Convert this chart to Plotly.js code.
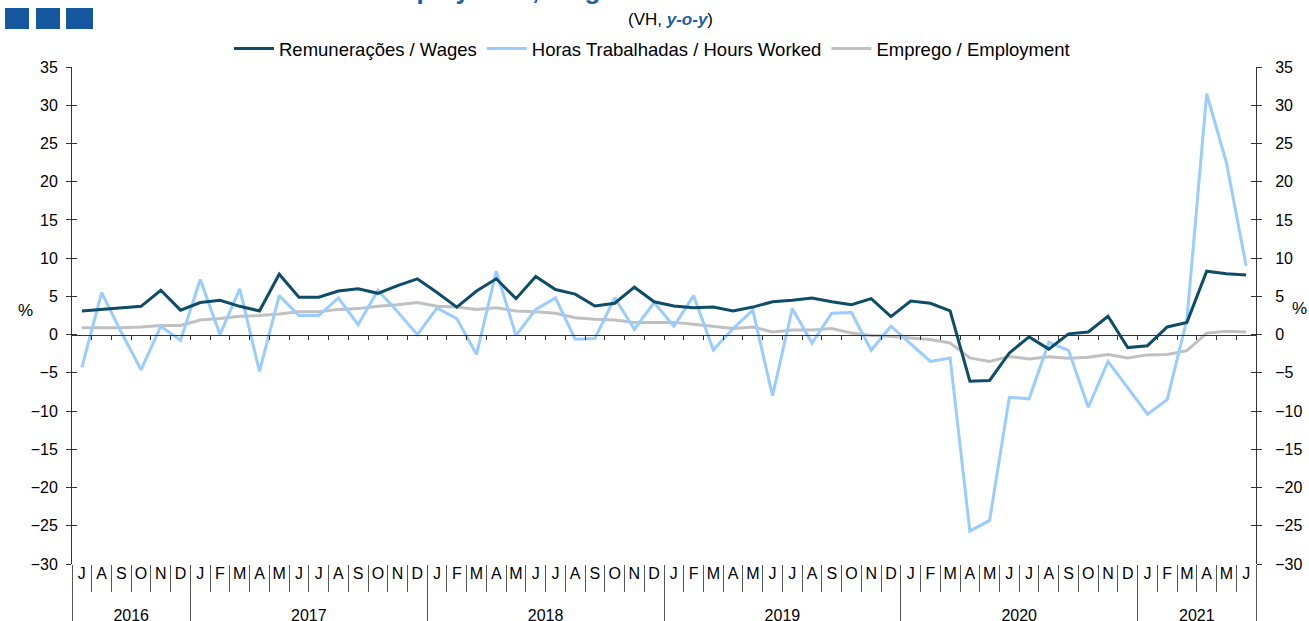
<!DOCTYPE html>
<html><head><meta charset="utf-8">
<script src="https://cdn.plot.ly/plotly-3.0.1.min.js"></script>
<style>html,body{margin:0;padding:0;background:#fff;} #chart{width:1309px;height:621px;}</style>
</head><body><div id="chart"></div>
<script>
// ---- data ----
const monthLetters = ['J','F','M','A','M','J','J','A','S','O','N','D'];
const startYear = 2016;
const startMonth = 6; // July
const wages = [
  3.1, 3.3, 3.5, 3.7, 5.8, 3.2,
  4.2, 4.5, 3.7, 3.1, 7.9, 4.9, 4.9, 5.7, 6.0, 5.4, 6.4, 7.3,
  5.5, 3.6, 5.7, 7.3, 4.7, 7.6, 5.9, 5.3, 3.75, 4.1, 6.2, 4.3,
  3.75, 3.5, 3.6, 3.1, 3.6, 4.3, 4.5, 4.8, 4.3, 3.9, 4.7, 2.35,
  4.4, 4.1, 3.1, -6.1, -6.0, -2.4, -0.3, -1.9, 0.1, 0.35, 2.4, -1.7,
  -1.45, 1.0, 1.6, 8.3, 7.95, 7.8
];
const hours = [
  -4.3, 5.5, 0.3, -4.6, 1.1, -0.75,
  7.2, 0.0, 6.0, -4.8, 5.1, 2.5, 2.5, 4.8, 1.3, 5.8, 3.0, 0.0,
  3.5, 2.1, -2.6, 8.3, -0.1, 3.3, 4.8, -0.6, -0.5, 4.8, 0.7, 4.2,
  1.1, 5.1, -2.0, 0.8, 3.2, -8.0, 3.4, -1.1, 2.8, 2.9, -2.05, 1.1,
  -1.2, -3.5, -3.05, -25.7, -24.3, -8.2, -8.4, -1.0, -2.05, -9.5, -3.5, -6.9,
  -10.4, -8.5, 2.0, 31.5, 22.5, 9.0
];
const employment = [
  0.9, 0.9, 0.9, 1.0, 1.2, 1.2,
  1.9, 2.1, 2.4, 2.5, 2.7, 3.0, 3.0, 3.3, 3.4, 3.7, 3.9, 4.2,
  3.7, 3.6, 3.3, 3.5, 3.1, 3.0, 2.8, 2.2, 2.0, 1.9, 1.6, 1.6,
  1.6, 1.35, 1.1, 0.8, 1.0, 0.35, 0.6, 0.6, 0.8, 0.2, -0.1, -0.2,
  -0.45, -0.65, -1.1, -3.05, -3.5, -2.85, -3.2, -2.9, -3.1, -2.95, -2.6, -3.05,
  -2.65, -2.6, -2.1, 0.2, 0.45, 0.35
];
const seriesNames = ['Remunerações / Wages', 'Horas Trabalhadas / Hours Worked', 'Emprego / Employment'];
const yTicks = [-30,-25,-20,-15,-10,-5,0,5,10,15,20,25,30,35];
const yRange = [-30, 35];

// ---- build categories ----
const n = wages.length;
const years = [], months = [];
for (let i = 0; i < n; i++) {
  const m = (startMonth + i) % 12;
  const y = startYear + Math.floor((startMonth + i) / 12);
  years.push('<br>' + y);                               // empty first line lowers the year row
  months.push(monthLetters[m] + '\u200B'.repeat(i + 1)); // invisible suffix keeps each month distinct and in order
}
const xCat = [years, months];
const boundaries = [];
for (let i = 0; i < n - 1; i++) boundaries.push(i + 0.5);

// ---- geometry helpers ----
const W = 1309, H = 621, ML = 72, MR = 53, MT = 67, MB = 57;
const PW = W - ML - MR, PH = H - MT - MB;
const px2x = p => (p - ML) / PW;
const py2y = p => (H - MB - p) / PH;

const font = 'Liberation Sans, Arial, sans-serif';
const blue = '#1a5ea8';

const traces = [
  {x: xCat, y: employment, name: seriesNames[2], type: 'scatter', mode: 'lines',
   line: {color: '#c0c0c0', width: 3}, legendrank: 3},
  {x: xCat, y: hours, name: seriesNames[1], type: 'scatter', mode: 'lines',
   line: {color: '#99ccff', width: 3}, legendrank: 2},
  {x: xCat, y: wages, name: seriesNames[0], type: 'scatter', mode: 'lines',
   line: {color: '#0e4d68', width: 3}, legendrank: 1},
  {x: [null], y: [null], xaxis: 'x2', yaxis: 'y', showlegend: false, hoverinfo: 'skip'},
  {x: [null], y: [null], xaxis: 'x3', yaxis: 'y', showlegend: false, hoverinfo: 'skip'},
  {x: [null], y: [null], xaxis: 'x', yaxis: 'y2', showlegend: false, hoverinfo: 'skip'},
  {x: [null], y: [null], xaxis: 'x', yaxis: 'y3', showlegend: false, hoverinfo: 'skip'}
];

const yBase = {range: yRange, tickvals: yTicks, showgrid: false, zeroline: false,
  tickfont: {size: 16, color: '#000'}, linecolor: '#333', tickcolor: '#333', fixedrange: true};

const layout = {
  width: W, height: H,
  margin: {l: ML, r: MR, t: MT, b: MB, pad: 0},
  paper_bgcolor: '#fff', plot_bgcolor: '#fff',
  font: {family: font, size: 16, color: '#000'},
  showlegend: true,
  legend: {orientation: 'h', x: px2x(652), xanchor: 'center', y: py2y(49), yanchor: 'middle',
           font: {size: 18.5, color: '#000'}, bgcolor: 'rgba(0,0,0,0)', traceorder: 'normal', itemwidth: 40},
  xaxis: {type: 'multicategory', range: [-0.5, n - 0.5], showline: false, ticks: '', tickangle: 0,
          ticklabelstandoff: -2,
          showdividers: true, dividercolor: '#555', dividerwidth: 1,
          tickfont: {size: 16, color: '#000'}, showgrid: false, zeroline: false, fixedrange: true},
  xaxis2: {overlaying: 'x', anchor: 'free', position: (0 - yRange[0]) / (yRange[1] - yRange[0]),
           type: 'linear', range: [-0.5, n - 0.5], showline: true, linecolor: '#333', linewidth: 1,
           ticks: 'outside', ticklen: 4, tickcolor: '#333', tickvals: boundaries,
           showticklabels: false, showgrid: false, zeroline: false, fixedrange: true},
  xaxis3: {overlaying: 'x', anchor: 'free', position: 0,
           type: 'linear', range: [-0.5, n - 0.5], showline: false,
           ticks: 'outside', ticklen: 27, tickcolor: '#555', tickvals: boundaries,
           showticklabels: false, showgrid: false, zeroline: false, fixedrange: true},
  yaxis: Object.assign({}, yBase, {side: 'left', showline: true, ticks: 'outside', ticklen: 5,
           ticklabelstandoff: 5}),
  yaxis2: Object.assign({}, yBase, {overlaying: 'y', side: 'right', anchor: 'x', showline: true,
           ticks: 'outside', ticklen: 5, ticklabelstandoff: 10}),
  yaxis3: Object.assign({}, yBase, {overlaying: 'y', side: 'left', anchor: 'x', showline: false,
           ticks: 'inside', ticklen: 5, mirror: 'ticks', showticklabels: false}),
  shapes: [[5, 29], [36, 60], [66, 93]].map(([a, b]) => ({
    type: 'rect', xref: 'paper', yref: 'paper', x0: px2x(a), x1: px2x(b), y0: py2y(29), y1: py2y(8),
    fillcolor: '#1558a0', line: {width: 0}
  })),
  annotations: [
    {text: '<b>Employment, Wages and Hours Worked</b>', xref: 'paper', yref: 'paper',
     x: px2x(374), xanchor: 'left', y: py2y(7), yanchor: 'bottom', showarrow: false,
     font: {size: 26, color: blue}},
    {text: '(VH, <b><i><span style="color:' + blue + '">y-o-y</span></i></b>)', xref: 'paper', yref: 'paper',
     x: px2x(670), xanchor: 'center', y: py2y(20), yanchor: 'middle', showarrow: false,
     font: {size: 17, color: '#000'}},
    {text: '%', xref: 'paper', yref: 'paper', x: px2x(25), xanchor: 'center', y: py2y(310), yanchor: 'middle',
     showarrow: false, font: {size: 17}},
    {text: '%', xref: 'paper', yref: 'paper', x: px2x(1300), xanchor: 'center', y: py2y(308), yanchor: 'middle',
     showarrow: false, font: {size: 17}}
  ]
};

Plotly.newPlot('chart', traces, layout, {displayModeBar: false, staticPlot: true});
</script>
</body></html>
